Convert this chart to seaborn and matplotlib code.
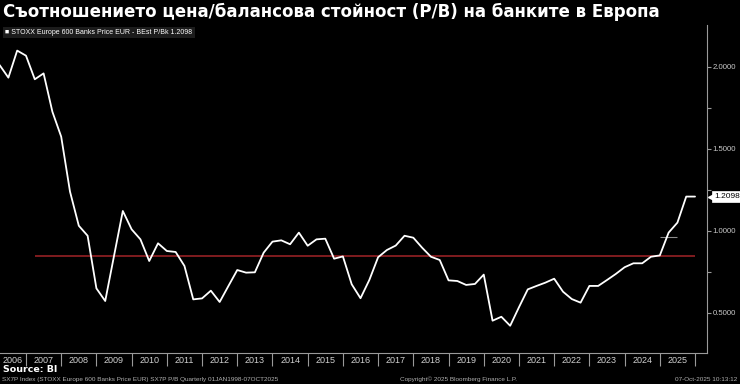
import matplotlib
matplotlib.use("Agg")
import matplotlib.pyplot as plt
import matplotlib.transforms as mtransforms
import seaborn as sns
import numpy as np
import pandas as pd

# ---------------- data ----------------
start_year = 2006.25   # first quarterly observation (fractional year)
step = 0.25
pb_values = [2.012, 1.935, 2.100, 2.069, 1.925, 1.961, 1.727, 1.575, 1.240, 1.032,
             0.971, 0.650, 0.573, 0.848, 1.122, 1.010, 0.949, 0.817, 0.925, 0.878,
             0.872, 0.787, 0.583, 0.589, 0.636, 0.567, 0.665, 0.762, 0.746, 0.748,
             0.868, 0.935, 0.943, 0.919, 0.990, 0.910, 0.949, 0.953, 0.831, 0.845,
             0.675, 0.590, 0.701, 0.840, 0.884, 0.911, 0.971, 0.959, 0.898, 0.843,
             0.823, 0.699, 0.695, 0.671, 0.677, 0.734, 0.453, 0.477, 0.422, 0.535,
             0.644, 0.665, 0.685, 0.709, 0.630, 0.585, 0.563, 0.665, 0.665, 0.701,
             0.738, 0.779, 0.803, 0.803, 0.843, 0.851, 0.990, 1.051, 1.2098, 1.2098]
avg_level = 0.848
avg_start = 2007.25
consensus_level = 0.961
consensus_span = [2025.0, 2025.5]
last_value = 1.2098
years = list(range(2006, 2026))
y_ticks = [0.5, 1.0, 1.5, 2.0]
y_minor_ticks = [0.75, 1.25, 1.75]

title = "Съотношението цена/балансова стойност (P/B) на банките в Европа"
legend_text = "STOXX Europe 600 Banks Price EUR - BEst P/Bk 1.2098"
source_text = "Source: BI"
footer_left = "SX7P Index (STOXX Europe 600 Banks Price EUR) SX7P P/B Quarterly 01JAN1998-07OCT2025"
footer_mid = "Copyright\u00a9 2025 Bloomberg Finance L.P."
footer_right = "07-Oct-2025 10:13:12"

t = start_year + step * np.arange(len(pb_values))
df = pd.DataFrame({"t": t, "pb": pb_values})

# ---------------- style ----------------
sns.set_theme(style="dark", rc={
    "figure.facecolor": "black",
    "axes.facecolor": "black",
    "savefig.facecolor": "black",
    "axes.edgecolor": "#9a9a9a",
    "text.color": "white",
})
plt.rcParams["font.family"] = ["DejaVu Sans"]
narrow = ["Liberation Sans Narrow", "Liberation Sans", "DejaVu Sans"]

W, H = 740, 384
fig = plt.figure(figsize=(W / 100, H / 100), dpi=100)
ax_l, ax_r, ax_t, ax_b = 0, 707, 25, 353
ax = fig.add_axes([ax_l / W, 1 - ax_b / H, (ax_r - ax_l) / W, (ax_b - ax_t) / H])
ax.set_facecolor("black")

sns.lineplot(data=df, x="t", y="pb", ax=ax, color="white", linewidth=1.3, zorder=3)
ax.hlines(avg_level, avg_start, t[-1], color="#8a1e22", linewidth=1.3, zorder=2)
ax.hlines(consensus_level, consensus_span[0], consensus_span[1], color="#8c8c8c",
          linewidth=0.8, zorder=2)

x_left = 2006.262
x_right = 2026.34
ax.set_xlim(x_left, x_right)
ax.set_ylim(0.256, 2.256)
ax.set_xlabel("")
ax.set_ylabel("")
ax.grid(False)

for s in ["left", "top"]:
    ax.spines[s].set_visible(False)
for s in ["right", "bottom"]:
    ax.spines[s].set_color("#9a9a9a")
    ax.spines[s].set_linewidth(0.8)

# y axis on the right
ax.yaxis.tick_right()
ax.set_yticks(y_ticks)
ax.set_yticklabels([f"{v:.4f}" for v in y_ticks])
ax.set_yticks(y_minor_ticks, minor=True)
ax.tick_params(axis="y", which="both", direction="out", length=3, width=0.8,
               colors="#9a9a9a", labelcolor="#c8c8c8", labelsize=5.6, pad=1,
               left=False, right=True)
for lab in ax.get_yticklabels():
    lab.set_family(narrow)

# x axis: separators at year boundaries, labels centred inside each year
bounds = [y + 1 for y in years]
centers = [(max(y, x_left) + y + 1) / 2 for y in years]
ax.set_xticks(bounds)
ax.set_xticklabels([""] * len(bounds))
ax.set_xticks(centers, minor=True)
ax.set_xticklabels([str(y) for y in years], minor=True)
ax.tick_params(axis="x", which="major", direction="out", length=9, width=0.8,
               colors="#9a9a9a", bottom=True)
ax.tick_params(axis="x", which="minor", length=0, labelsize=6.5, labelcolor="#d0d0d0",
               pad=2, bottom=True)
for lab in ax.get_xticklabels(minor=True):
    lab.set_family(narrow)

# last value tag: white box with a small pointer towards the axis
tag_tr = mtransforms.offset_copy(ax.get_yaxis_transform(), fig=fig, x=3.2, y=0, units="points")
ax.plot([1.0], [last_value], marker="<", markersize=4.5, color="white",
        transform=tag_tr, clip_on=False, zorder=5)
ax.annotate(f"{last_value:.4f}", xy=(1.0, last_value), xycoords=("axes fraction", "data"),
            xytext=(5, 0), textcoords="offset points", ha="left", va="center",
            fontsize=6, color="black", family=narrow, annotation_clip=False,
            bbox=dict(boxstyle="square,pad=0.2", fc="white", ec="white", lw=0.5))

# titles and texts
fig.text(3 / W, 1 - 12 / H, title, fontsize=12, weight="bold", color="white",
         ha="left", va="center")
fig.text(5 / W, 1 - 32.5 / H, "\u25a0 " + legend_text, fontsize=5, color="white",
         ha="left", va="center", family=narrow,
         bbox=dict(boxstyle="square,pad=0.35", fc="#1c1c1c", ec="none"))
fig.text(3 / W, 1 - 369 / H, source_text, fontsize=6.8, weight="bold", color="white",
         ha="left", va="center")
fig.text(2 / W, 1 - 379.5 / H, footer_left, fontsize=4.6, color="#b0b0b0",
         ha="left", va="center", family=narrow)
fig.text(459 / W, 1 - 379.5 / H, footer_mid, fontsize=4.6, color="#b0b0b0",
         ha="center", va="center", family=narrow)
fig.text(737 / W, 1 - 379.5 / H, footer_right, fontsize=4.6, color="#b0b0b0",
         ha="right", va="center", family=narrow)

fig.savefig("out.png", dpi=100, facecolor="black")
